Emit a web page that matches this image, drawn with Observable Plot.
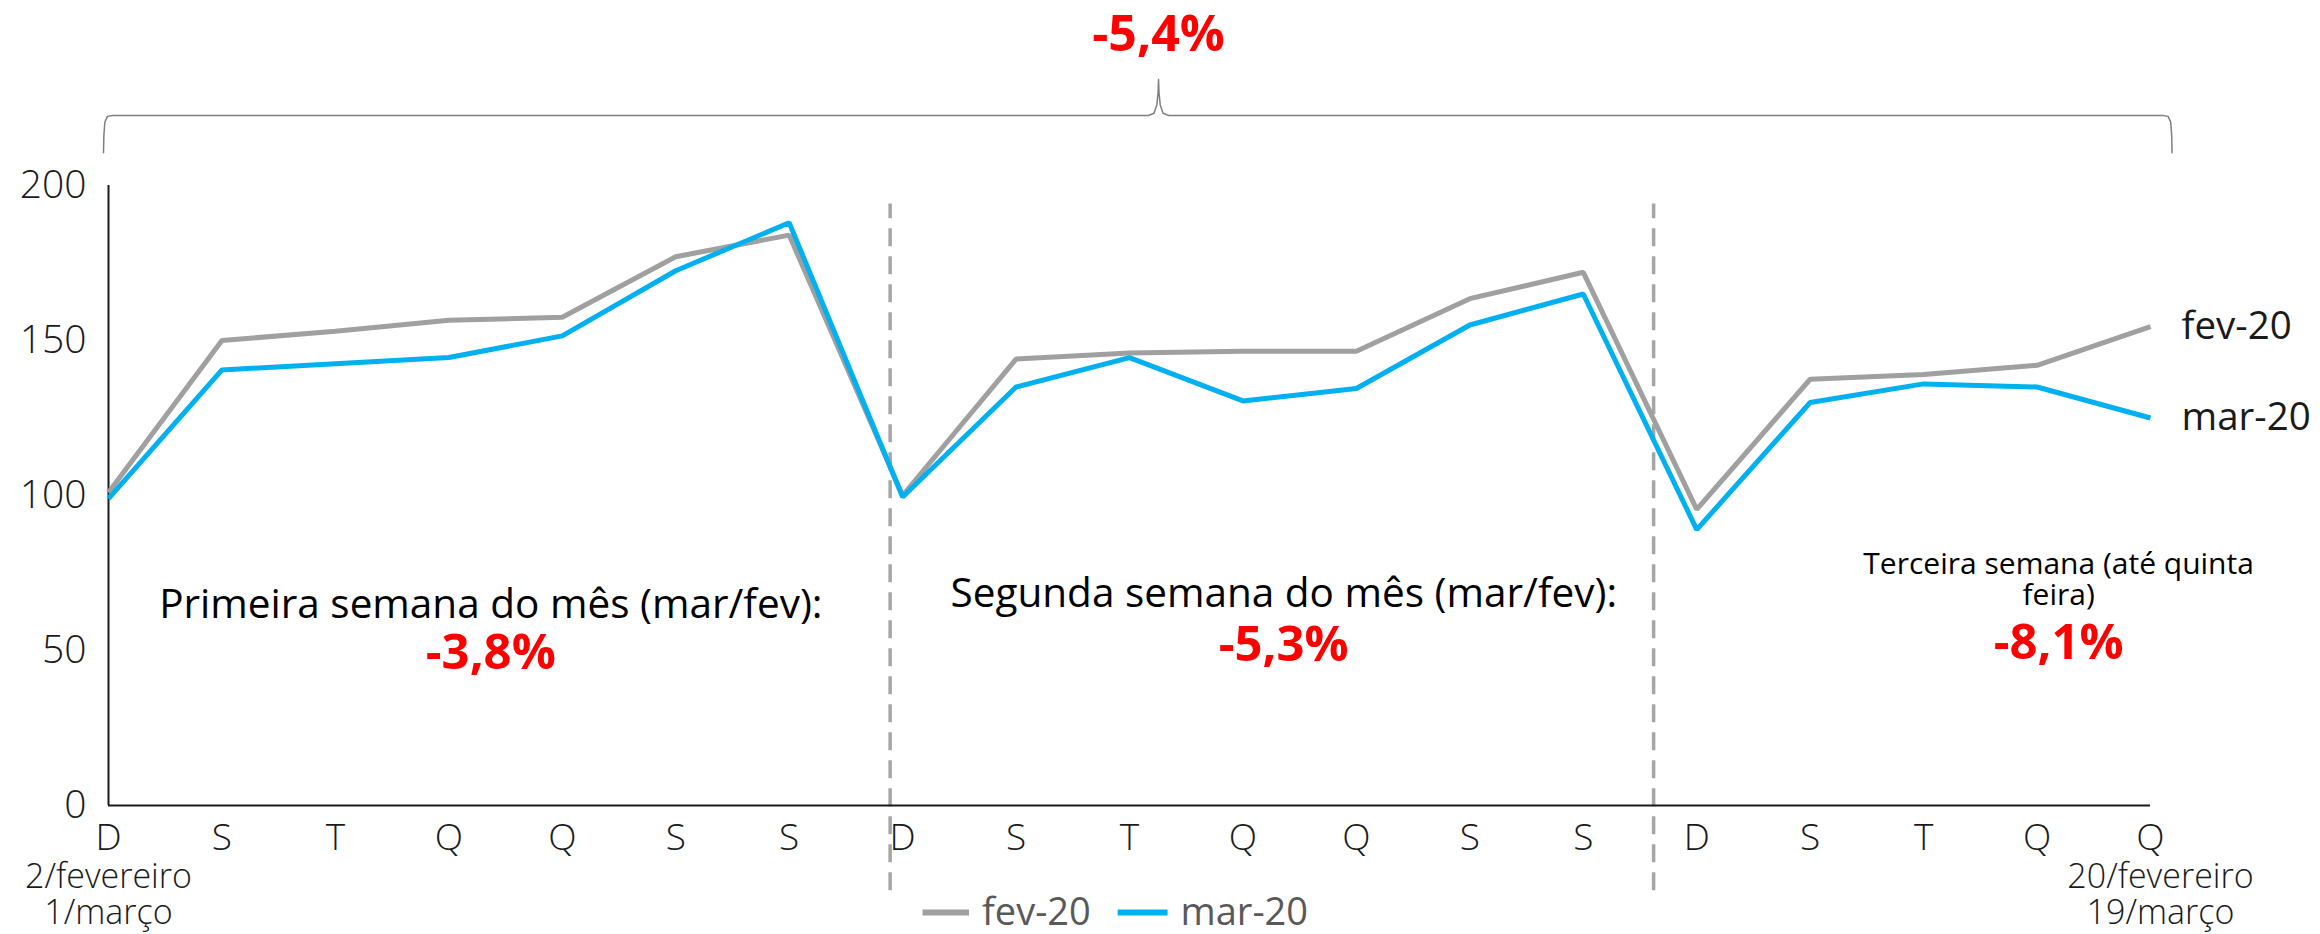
<!DOCTYPE html>
<html><head><meta charset="utf-8">
<script src="https://cdn.jsdelivr.net/npm/d3@7"></script>
<script src="https://cdn.jsdelivr.net/npm/@observablehq/plot@0.6"></script>
<style>
body{margin:0;background:#fff;}
svg{font-family:"Open Sans",sans-serif;}
</style></head><body><div id="chart"></div>
<script>
// ---- data ----
const days = ["D","S","T","Q","Q","S","S","D","S","T","Q","Q","S","S","D","S","T","Q","Q"];
const fev20 = [101,150,153,156.5,157.5,177,184,100,144,146,146.5,146.5,163.5,172,95.5,137.5,139,142,154.5];
const mar20 = [99,140.5,142.5,144.5,151.5,172.5,188,99.5,135,144.5,130.5,134.5,155,165,89,130,136,135,125];
const seriesNames = ["fev-20","mar-20"];
const yTicks = [0,50,100,150,200];
const weekTitles = ["Primeira semana do mês (mar/fev):","Segunda semana do mês (mar/fev):","Terceira semana (até quinta\nfeira)"];
const weekChanges = ["-3,8%","-5,3%","-8,1%"];
const totalChange = "-5,4%";
const startDate = "2/fevereiro\n1/março";
const endDate = "20/fevereiro\n19/março";
const weekBreaks = [6.89, 13.62];

// ---- layout / styles ----
const colors = {"fev-20":"#a0a0a0","mar-20":"#00b0f0"};
const rows = [];
seriesNames.forEach((s, k) => (k === 0 ? fev20 : mar20).forEach((v, i) => rows.push({i, day: days[i], value: v, series: s})));
const last = seriesNames.map((s, k) => ({series: s, i: days.length - 1, value: (k === 0 ? fev20 : mar20)[days.length - 1]}));

const weekAnn = [
  {x: 3.37, yT: 64.8, yC: 49.2, size: 40.5},
  {x: 10.36, yT: 68.4, yC: 51.7, size: 40.5},
  {x: 17.19, yT: 73.0, yC: 52.4, size: 30}
].map((a, k) => ({...a, title: weekTitles[k], change: weekChanges[k]}));

const L = -0.044, R = 18.19, M = 9.256, H = 222.6, E = 210.6, P = 234.2;
const brace = [
  [L,E],[L+0.003,216],[L+0.012,220.5],[L+0.035,222.3],[L+0.08,H],
  [M-0.09,H],[M-0.04,223.3],[M-0.015,226],[M-0.004,230],[M,P],
  [M+0.004,230],[M+0.015,226],[M+0.04,223.3],[M+0.09,H],
  [R-0.08,H],[R-0.035,222.3],[R-0.012,220.5],[R-0.003,216],[R,E]
].map(([x,y]) => ({x,y}));

const legendItems = [
  {series:"fev-20", x1:7.18, x2:7.59, xt:7.70},
  {series:"mar-20", x1:8.90, x2:9.34, xt:9.45}
];
const legendY = -34.5;

const chart = Plot.plot({
  width: 2320, height: 934,
  marginLeft: 108, marginRight: 170, marginTop: 185, marginBottom: 129,
  x: {domain: [0, days.length - 1], axis: null},
  y: {domain: [0, 200], axis: null},
  style: {fontFamily: '"Open Sans", sans-serif', background: "#fff", overflow: "visible"},
  marks: [
    Plot.axisY({ticks: yTicks, tickSize: 0, tickPadding: 22, fontSize: 39, fontWeight: 300, fill: "#1a1a1a", label: null}),
    Plot.axisX({ticks: d3.range(days.length), tickFormat: i => days[i], tickSize: 0, tickPadding: 18, fontSize: 37, fontWeight: 300, fill: "#1a1a1a", label: null}),
    Plot.text([startDate], {x: 0, y: 0, dy: 89, text: d => d, fontSize: 34, fontWeight: 300, fill: "#1a1a1a", lineHeight: 1.05}),
    Plot.text([endDate], {x: days.length - 1, y: 0, dx: 10, dy: 89, text: d => d, fontSize: 34, fontWeight: 300, fill: "#1a1a1a", lineHeight: 1.05}),
    Plot.ruleX(weekBreaks, {y1: -27.5, y2: 194, stroke: "#a6a6a6", strokeWidth: 3.5, strokeDasharray: "18,10"}),
    Plot.ruleY([0], {stroke: "#1a1a1a", strokeWidth: 2}),
    Plot.ruleX([0], {y1: 0, y2: 200, stroke: "#1a1a1a", strokeWidth: 2}),
    Plot.line(rows, {x: "i", y: "value", z: "series", stroke: d => colors[d.series], strokeWidth: 5, strokeLinejoin: "miter", strokeLinecap: "butt"}),
    Plot.text(last, {x: "i", y: "value", text: "series", dx: 31, textAnchor: "start", fontSize: 38.5, fill: "#1a1a1a"}),
    Plot.text(weekAnn, {x: "x", y: "yT", text: "title", fontSize: d => d.size, fill: "#000", lineHeight: 1.05}),
    Plot.text(weekAnn, {x: "x", y: "yC", text: "change", fontSize: 49, fontWeight: 700, fill: "#ff0000"}),
    Plot.line(brace, {x: "x", y: "y", stroke: "#7f7f7f", strokeWidth: 1.5}),
    Plot.text([totalChange], {x: M, y: 248.7, text: d => d, fontSize: 50, fontWeight: 700, fill: "#ff0000"}),
    Plot.ruleY(legendItems, {x1: "x1", x2: "x2", y: legendY, stroke: d => colors[d.series], strokeWidth: 6}),
    Plot.text(legendItems, {x: "xt", y: legendY, text: "series", textAnchor: "start", fontSize: 38, fill: "#595959"})
  ]
});
document.getElementById("chart").appendChild(chart);
</script>
</body></html>
